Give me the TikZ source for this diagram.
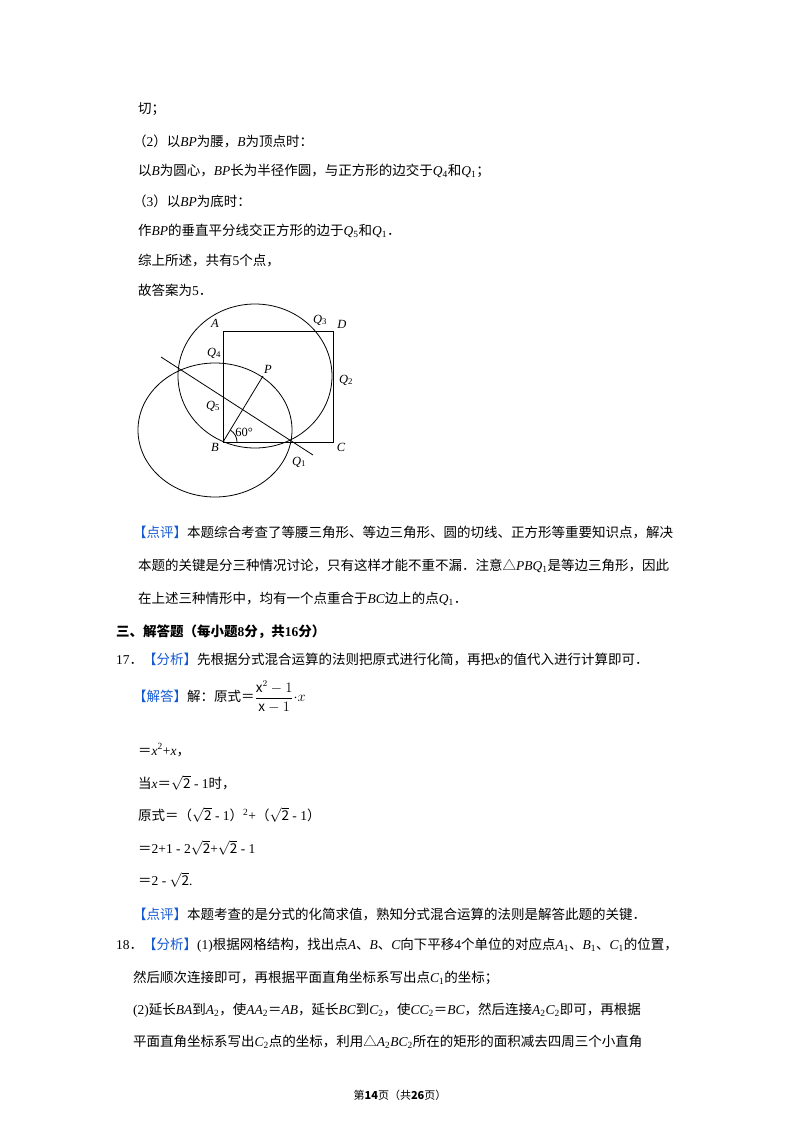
\documentclass[tikz,border=0pt]{standalone}
\usepackage{fontspec}
\setmainfont{Noto Sans CJK SC}
\newfontfamily\lat{Liberation Serif}
\newcommand\vi[1]{{\lat\itshape #1}}
\newcommand\tm[1]{{\lat #1}}
\newcommand\sq{$\sqrt{\mathrm{2}}$}
\definecolor{lblue}{RGB}{20,90,210}
\newcommand\br[1]{\textcolor{lblue}{【#1】}}
\begin{document}
\begin{tikzpicture}[x=1pt,y=-1pt,
  txt/.style={anchor=west,inner sep=0,font=\fontsize{13.5}{16}\selectfont},
  lab/.style={inner sep=0,font=\fontsize{12.5}{14}\selectfont\lat\itshape},
  geo/.style={line width=0.8pt}]
\useasboundingbox (0,0) rectangle (800,1132);
\fill[white] (0,0) rectangle (800,1132);
% text above
\node[txt] (t1) at (138,109) {切；};
\node[txt] (t2) at (133,141) {（\tm{2}）以\vi{BP}为腰，\vi{B}为顶点时：};
\node[txt] (t3) at (138,171) {以\vi{B}为圆心，\vi{BP}长为半径作圆，与正方形的边交于\vi{Q}\tm{\textsubscript{4}}和\vi{Q}\tm{\textsubscript{1}}；};
\node[txt] (t4) at (133,201) {（\tm{3}）以\vi{BP}为底时：};
\node[txt] (t5) at (138,231) {作\vi{BP}的垂直平分线交正方形的边于\vi{Q}\tm{\textsubscript{5}}和\vi{Q}\tm{\textsubscript{1}}．};
\node[txt] (t6) at (138,261) {综上所述，共有\tm{5}个点，};
\node[txt] (t7) at (138,290) {故答案为\tm{5}．};
% figure
\coordinate (A) at (223,331);
\coordinate (D) at (333,331);
\coordinate (B) at (223,442);
\coordinate (C) at (333,442);
\coordinate (P) at (263,376);
\coordinate (L1) at (161,357);
\coordinate (L2) at (313,455);
\draw[geo] (A) -- (D) -- (C) -- (B) -- cycle;
\draw[geo] (215,430) ellipse [x radius=77,y radius=67];
\draw[geo] (255,376) ellipse [x radius=77,y radius=72];
\draw[geo] (B) -- (P);
\draw[geo] (L1) -- (L2);
\draw[geo] (B) ++(14,0) arc[start angle=0,end angle=-58,radius=14];
\node[lab] (lA) at (215,323) {A};
\node[lab] (lQ3) at (320,320) {Q\textsubscript{\upshape 3}};
\node[lab] (lD) at (342,324) {D};
\node[lab] (lQ4) at (214,353) {Q\textsubscript{\upshape 4}};
\node[lab] (lP) at (268,369) {P};
\node[lab] (lQ2) at (346,380) {Q\textsubscript{\upshape 2}};
\node[lab] (lQ5) at (213,406) {Q\textsubscript{\upshape 5}};
\node[lab,font=\fontsize{12.5}{14}\selectfont\lat] (l60) at (244,432) {60°};
\node[lab] (lB) at (215,447) {B};
\node[lab] (lC) at (341,447) {C};
\node[lab] (lQ1) at (299,462) {Q\textsubscript{\upshape 1}};
% text below
\node[txt] (u1) at (133,533) {\br{点评}本题综合考查了等腰三角形、等边三角形、圆的切线、正方形等重要知识点，解决};
\node[txt] (u2) at (138,566) {本题的关键是分三种情况讨论，只有这样才能不重不漏．注意△\vi{PBQ}\tm{\textsubscript{1}}是等边三角形，因此};
\node[txt] (u3) at (138,599) {在上述三种情形中，均有一个点重合于\vi{BC}边上的点\vi{Q}\tm{\textsubscript{1}}．};
\node[txt,font=\fontsize{13.5}{16}\selectfont\bfseries] (u4) at (116,632) {三、解答题（每小题\tm{\bfseries 8}分，共\tm{\bfseries 16}分）};
\node[txt] (u5) at (116,660) {\tm{17}．\br{分析}先根据分式混合运算的法则把原式进行化简，再把\vi{x}的值代入进行计算即可．};
\node[txt] (u6) at (133,697) {\br{解答}解：原式＝$\displaystyle\frac{\mathrm{x}^{2}-1}{\mathrm{x}-1}$$\cdot x$};
\node[txt] (u7) at (138,750) {＝\vi{x}\tm{\textsuperscript{2}+}\vi{x}，};
\node[txt] (u8) at (138,783) {当\vi{x}＝\sq\tm{ - 1}时，};
\node[txt] (u9) at (138,815) {原式＝（\sq\tm{ - 1}）\tm{\textsuperscript{2}+}（\sq\tm{ - 1}）};
\node[txt] (u10) at (138,848) {＝\tm{2+1 - 2}\sq\tm{+}\sq\tm{ - 1}};
\node[txt] (u11) at (138,880) {＝\tm{2 - }\sq\tm{.}};
\node[txt] (u12) at (133,915) {\br{点评}本题考查的是分式的化简求值，熟知分式混合运算的法则是解答此题的关键．};
\node[txt] (u13) at (116,945) {\tm{18}．\br{分析}\tm{(1)}根据网格结构，找出点\vi{A}、\vi{B}、\vi{C}向下平移\tm{4}个单位的对应点\vi{A}\tm{\textsubscript{1}}、\vi{B}\tm{\textsubscript{1}}、\vi{C}\tm{\textsubscript{1}}的位置，};
\node[txt] (u14) at (133,978) {然后顺次连接即可，再根据平面直角坐标系写出点\vi{C}\tm{\textsubscript{1}}的坐标；};
\node[txt] (u15) at (133,1010) {\tm{(2)}延长\vi{BA}到\vi{A}\tm{\textsubscript{2}}，使\vi{AA}\tm{\textsubscript{2}}＝\vi{AB}，延长\vi{BC}到\vi{C}\tm{\textsubscript{2}}，使\vi{CC}\tm{\textsubscript{2}}＝\vi{BC}，然后连接\vi{A}\tm{\textsubscript{2}}\vi{C}\tm{\textsubscript{2}}即可，再根据};
\node[txt] (u16) at (133,1042) {平面直角坐标系写出\vi{C}\tm{\textsubscript{2}}点的坐标，利用△\vi{A}\tm{\textsubscript{2}}\vi{BC}\tm{\textsubscript{2}}所在的矩形的面积减去四周三个小直角};
\node[inner sep=0,font=\fontsize{11}{13}\selectfont] (foot) at (400,1095) {第\textbf{14}页（共\textbf{26}页）};
\end{tikzpicture}
\end{document}
